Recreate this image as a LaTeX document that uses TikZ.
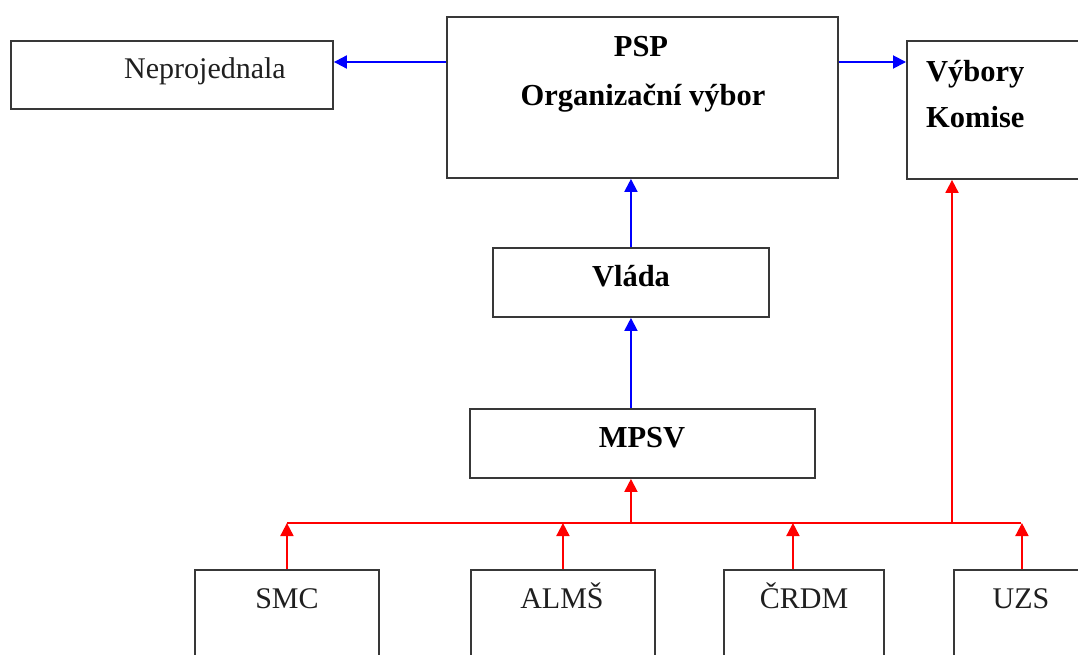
\documentclass[tikz,border=0pt]{standalone}
\usepackage{fontspec}
\setmainfont{Liberation Serif}
\usetikzlibrary{arrows.meta}
\begin{document}
\begin{tikzpicture}[x=1pt,y=-1pt,
  box/.style={draw=black!78, line width=1.9pt, inner sep=0pt, anchor=north west, fill=white},
  txt/.style={font=\fontsize{30}{35}\selectfont, inner sep=0pt, anchor=base, text=black!88},
  btxt/.style={font=\fontsize{30.5}{35}\selectfont\bfseries, inner sep=0pt, anchor=base, text=black},
  barrow/.style={draw={rgb,255:red,0;green,0;blue,255}, line width=1.9pt, -{Triangle[width=13pt,length=13pt]}},
  rline/.style={draw={rgb,255:red,255;green,0;blue,0}, line width=1.9pt},
  rarrow/.style={rline, -{Triangle[width=13pt,length=13pt]}}]
\path[use as bounding box, clip] (0,0) rectangle (1078,655);
\fill[white] (0,0) rectangle (1078,655);
% boxes
\node[box, minimum width=322, minimum height=68] (nep) at (10,40) {};
\node[box, minimum width=391, minimum height=161] (psp) at (446,16) {};
\node[box, minimum width=200, minimum height=138] (vyb) at (906,40) {};
\node[box, minimum width=276, minimum height=69] (vlada) at (492,247) {};
\node[box, minimum width=345, minimum height=69] (mpsv) at (469,408) {};
\node[box, minimum width=184, minimum height=120] (smc) at (194,569) {};
\node[box, minimum width=184, minimum height=120] (alms) at (470,569) {};
\node[box, minimum width=160, minimum height=120] (crdm) at (723,569) {};
\node[box, minimum width=136, minimum height=120] (uzs) at (953,569) {};
% texts
\node[txt] (tnep) at (205,79) {Neprojednala};
\node[btxt] (tpsp) at (641,57) {PSP};
\node[btxt] (torg) at (643,106) {Organizační výbor};
\node[btxt, anchor=base west] (tvyb) at (926,82) {Výbory};
\node[btxt, anchor=base west] (tkom) at (926,128) {Komise};
\node[btxt] (tvla) at (631,286) {Vláda};
\node[btxt] (tmpsv) at (642,447) {MPSV};
\node[txt] (tsmc) at (287,608) {SMC};
\node[txt] (talms) at (562,608) {ALMŠ};
\node[txt] (tcrdm) at (804,608) {ČRDM};
\node[txt] (tuzs) at (1021,608) {UZS};
% blue connectors
\coordinate (top) at (0,62);
\draw[barrow] (psp.west |- top) -- (nep.east |- top);
\draw[barrow] (psp.east |- top) -- (vyb.west |- top);
\draw[barrow] (vlada.north) -- (vlada.north |- psp.south);
\draw[barrow] (vlada.south |- mpsv.north) -- (vlada.south);
% red connectors
\coordinate (busL) at (287,523);
\coordinate (busR) at (1021,523);
\draw[rline] (busL) -- (busR);
\draw[rarrow] (vlada.south |- busL) -- (vlada.south |- mpsv.south);
\draw[rarrow] ([xshift=46pt]vyb.south west |- busL) -- ([xshift=46pt]vyb.south west);
\draw[rarrow] (smc.north) -- (smc.north |- busL);
\draw[rarrow] (alms.north) -- (alms.north |- busL);
\draw[rarrow] ([xshift=-11pt]crdm.north) -- ([xshift=-11pt]crdm.north |- busL);
\draw[rarrow] (uzs.north) -- (uzs.north |- busL);
\end{tikzpicture}
\end{document}
